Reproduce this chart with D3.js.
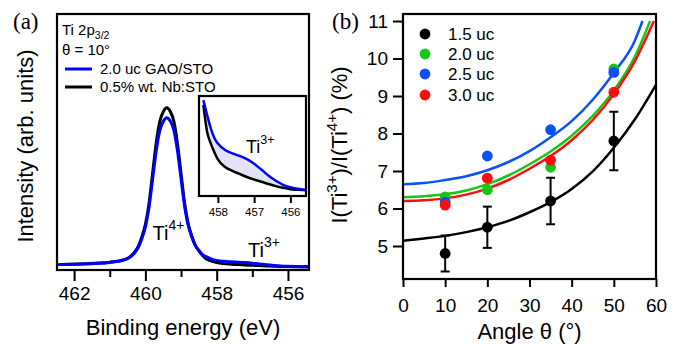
<!DOCTYPE html>
<html><head><meta charset="utf-8">
<script src="https://cdn.jsdelivr.net/npm/d3@7"></script>
<style>
body{margin:0;background:#fff}
svg{display:block}
text{font-family:"Liberation Sans",Arial,Helvetica,sans-serif;fill:#000}
</style>
</head><body>
<svg id="c" width="681" height="344"></svg>
<script>
// ---------- Panel (a): Ti 2p3/2 spectra ----------
const energy = [462.5, 462.2, 461.9, 461.6, 461.3, 461.0, 460.8, 460.6, 460.5, 460.4, 460.3, 460.2, 460.1, 460.0,
  459.9, 459.8, 459.7, 459.6, 459.5, 459.4, 459.3, 459.2, 459.1, 459.0,
  458.9, 458.8, 458.7, 458.6, 458.5, 458.4, 458.3, 458.2, 458.1, 458.0,
  457.8, 457.6, 457.4, 457.2, 457.0, 456.8, 456.6, 456.4, 456.2, 456.0, 455.8, 455.6, 455.4];
const gaoSto = [2.11, 2.18, 2.27, 2.43, 2.63, 2.96, 3.30, 3.89, 4.41, 5.32, 6.76, 8.78, 12.21, 16.80,
  24.30, 35.23, 46.17, 54.24, 58.02, 59.50, 58.15, 54.49, 46.54, 35.73,
  24.91, 17.52, 12.99, 9.62, 7.67, 6.00, 5.25, 4.55, 4.02, 3.72,
  3.38, 3.20, 3.07, 2.90, 2.66, 2.35, 2.02, 1.76, 1.55, 1.42, 1.34, 1.28, 1.22];
const nbSto = [2.13, 2.20, 2.30, 2.47, 2.69, 3.04, 3.40, 4.03, 4.59, 5.56, 7.10, 9.26, 12.93, 17.84,
  25.84, 37.51, 49.20, 57.81, 61.83, 63.40, 61.90, 57.93, 49.38, 37.75,
  26.13, 18.18, 13.29, 9.64, 7.51, 5.75, 4.37, 3.74, 3.28, 2.89,
  2.49, 2.28, 2.12, 1.96, 1.83, 1.71, 1.59, 1.48, 1.39, 1.32, 1.29, 1.27, 1.25];
const energyMajorTicks = [462, 460, 458, 456];
const energyMinorTicks = [461, 459, 457];
const insetTicks = [458, 457, 456];

// ---------- Panel (b): Ti3+/Ti4+ ratio vs angle ----------
const angles = [10, 20, 35, 50];
const uc15 = [4.8, 5.5, 6.2, 7.8];
const uc15err = [0.48, 0.55, 0.62, 0.78];
const uc20 = [6.31, 6.5, 7.1, 9.72];
const uc25 = [6.17, 7.4, 8.1, 9.63];
const uc30 = [6.09, 6.81, 7.29, 9.1];
const fitAngles15 = [0, 5, 10, 15, 20, 25, 30, 35, 40, 45, 50, 55, 60];
const fit15 = [5.14, 5.20, 5.27, 5.37, 5.50, 5.67, 5.90, 6.17, 6.52, 6.99, 7.62, 8.38, 9.30];
const fitAngles20 = [0, 5, 10, 15, 20, 25, 30, 35, 40, 45, 50, 55, 58.6];
const fit20 = [6.30, 6.33, 6.38, 6.48, 6.65, 6.88, 7.18, 7.52, 7.94, 8.47, 9.15, 10.05, 11.0];
const fitAngles25 = [0, 5, 10, 15, 20, 25, 30, 35, 40, 45, 50, 55, 56.8];
const fit25 = [6.65, 6.68, 6.76, 6.86, 7.02, 7.24, 7.53, 7.90, 8.33, 8.90, 9.62, 10.48, 11.0];
const fitAngles30 = [0, 5, 10, 15, 20, 25, 30, 35, 40, 45, 50, 55, 59.5];
const fit30 = [6.20, 6.22, 6.27, 6.37, 6.53, 6.76, 7.06, 7.40, 7.82, 8.36, 9.05, 9.93, 11.0];
const angleTicks = [0, 10, 20, 30, 40, 50, 60];
const ratioTicks = [5, 6, 7, 8, 9, 10, 11];
const seriesNames = ["1.5 uc", "2.0 uc", "2.5 uc", "3.0 uc"];
const seriesColors = ["#000000", "#17c617", "#0a50ff", "#ff0d0d"];

const svg = d3.select("#c");

// ===== Panel (a) =====
const A = {l: 57, r: 309, t: 14, b: 270};
const xA = d3.scaleLinear().domain([462.48, 455.41]).range([A.l, A.r]);
const yA = d3.scaleLinear().domain([0, 100]).range([A.b, A.t]);
const specBlue = energy.map((e, i) => ({e, v: gaoSto[i]}));
const specBlack = energy.map((e, i) => ({e, v: nbSto[i]}));

svg.append("clipPath").attr("id", "clipA").append("rect")
  .attr("x", A.l).attr("y", A.t).attr("width", A.r - A.l).attr("height", A.b - A.t);

const lineA = d3.line().x(d => xA(d.e)).y(d => yA(d.v)).curve(d3.curveMonotoneX);
const gA = svg.append("g").attr("clip-path", "url(#clipA)");
gA.append("path").datum(specBlack).attr("d", lineA).attr("fill", "none").attr("stroke", "#000").attr("stroke-width", 3);
gA.append("path").datum(specBlue).attr("d", lineA).attr("fill", "none").attr("stroke", "#0000ff").attr("stroke-width", 3);

// axis ticks
const axA = svg.append("g").attr("transform", `translate(0,${A.b})`)
  .call(d3.axisBottom(xA).tickValues(energyMajorTicks).tickSize(11).tickPadding(6).tickFormat(d3.format("d")));
axA.select(".domain").remove();
axA.selectAll("line").attr("stroke-width", 2);
axA.selectAll("text").attr("font-size", 19).style("font-family", '"Liberation Sans",Arial,sans-serif');
const axA2 = svg.append("g").attr("transform", `translate(0,${A.b})`)
  .call(d3.axisBottom(xA).tickValues(energyMinorTicks).tickSize(7).tickFormat(""));
axA2.select(".domain").remove();
axA2.selectAll("line").attr("stroke-width", 2);

svg.append("rect").attr("x", A.l).attr("y", A.t).attr("width", A.r - A.l).attr("height", A.b - A.t)
  .attr("fill", "none").attr("stroke", "#000").attr("stroke-width", 2.2);

svg.append("text").attr("x", (A.l + A.r) / 2).attr("y", 335).attr("text-anchor", "middle")
  .attr("font-size", 22).text("Binding energy (eV)");
svg.append("text").attr("transform", "translate(33,146) rotate(-90)").attr("text-anchor", "middle")
  .attr("font-size", 22).text("Intensity (arb. units)");
svg.append("text").attr("x", 13).attr("y", 29).attr("font-size", 23)
  .style("font-family", '"Liberation Serif","Times New Roman",serif').text("(a)");

// legend (a)
const t1 = svg.append("text").attr("x", 62).attr("y", 35).attr("font-size", 15);
t1.append("tspan").text("Ti 2p");
t1.append("tspan").attr("font-size", 10.5).attr("dy", 4).text("3/2");
svg.append("text").attr("x", 62).attr("y", 55).attr("font-size", 15).text("θ = 10°");
svg.append("line").attr("x1", 65).attr("x2", 92).attr("y1", 69).attr("y2", 69).attr("stroke", "#0000ff").attr("stroke-width", 3);
svg.append("text").attr("x", 100).attr("y", 74).attr("font-size", 15).text("2.0 uc GAO/STO");
svg.append("line").attr("x1", 65).attr("x2", 92).attr("y1", 87).attr("y2", 87).attr("stroke", "#000").attr("stroke-width", 3);
svg.append("text").attr("x", 100).attr("y", 92).attr("font-size", 15).text("0.5% wt. Nb:STO");

function supLabel(x, y, fs, base, sup) {
  const t = svg.append("text").attr("x", x).attr("y", y).attr("font-size", fs);
  t.append("tspan").text(base);
  t.append("tspan").attr("font-size", fs * 0.7).attr("dy", -fs * 0.5).text(sup);
  return t;
}
supLabel(152.5, 240, 20, "Ti", "4+");
supLabel(248, 257, 20, "Ti", "3+");

// inset
const I = {l: 199, r: 306, t: 96, b: 196};
const xI = d3.scaleLinear().domain([458.52, 455.57]).range([I.l, I.r]);
const yI = d3.scaleLinear().domain([0.96, 6.22]).range([I.b, I.t]);
svg.append("rect").attr("x", I.l).attr("y", I.t).attr("width", I.r - I.l).attr("height", I.b - I.t)
  .attr("fill", "#fff");
svg.append("clipPath").attr("id", "clipI").append("rect")
  .attr("x", I.l).attr("y", I.t).attr("width", I.r - I.l).attr("height", I.b - I.t);
const insetData = energy.map((e, i) => ({e, hi: gaoSto[i], lo: nbSto[i]})).filter(d => d.e <= 458.4);
const gI = svg.append("g").attr("clip-path", "url(#clipI)");
gI.append("path").datum(insetData)
  .attr("d", d3.area().x(d => xI(d.e)).y0(d => yI(d.lo)).y1(d => yI(d.hi)).curve(d3.curveMonotoneX))
  .attr("fill", "#e3e3f8");
gI.append("path").datum(insetData)
  .attr("d", d3.line().x(d => xI(d.e)).y(d => yI(d.lo)).curve(d3.curveMonotoneX))
  .attr("fill", "none").attr("stroke", "#000").attr("stroke-width", 2.5);
gI.append("path").datum(insetData)
  .attr("d", d3.line().x(d => xI(d.e)).y(d => yI(d.hi)).curve(d3.curveMonotoneX))
  .attr("fill", "none").attr("stroke", "#0000ff").attr("stroke-width", 2.5);
svg.append("rect").attr("x", I.l).attr("y", I.t).attr("width", I.r - I.l).attr("height", I.b - I.t)
  .attr("fill", "none").attr("stroke", "#000").attr("stroke-width", 2.2);
const axI = svg.append("g").attr("transform", `translate(0,${I.b})`)
  .call(d3.axisBottom(xI).tickValues(insetTicks).tickSize(7).tickPadding(5).tickFormat(d3.format("d")));
axI.select(".domain").remove();
axI.selectAll("line").attr("stroke-width", 2);
axI.selectAll("text").attr("font-size", 11.5).style("font-family", '"Liberation Sans",Arial,sans-serif');
supLabel(246, 153, 18, "Ti", "3+");

// ===== Panel (b) =====
const B = {l: 403, r: 656, t: 14, b: 279};
const xB = d3.scaleLinear().domain([0, 60]).range([B.l, B.r]);
const yB = d3.scaleLinear().domain([4.12, 11.187]).range([B.b, B.t]);

svg.append("clipPath").attr("id", "clipB").append("rect")
  .attr("x", B.l).attr("y", B.t).attr("width", B.r - B.l).attr("height", B.b - B.t);
const gB = svg.append("g").attr("clip-path", "url(#clipB)");
const lineB = d3.line().x(d => xB(d[0])).y(d => yB(d[1])).curve(d3.curveMonotoneX);
const fits = [
  [fitAngles15, fit15, 0], [fitAngles25, fit25, 2], [fitAngles20, fit20, 1], [fitAngles30, fit30, 3]
];
fits.forEach(([xs, ys, ci]) => {
  gB.append("path").datum(xs.map((a, i) => [a, ys[i]])).attr("d", lineB)
    .attr("fill", "none").attr("stroke", seriesColors[ci]).attr("stroke-width", 2.5);
});

// error bars for 1.5 uc
angles.forEach((a, i) => {
  const x = xB(a), y1 = yB(uc15[i] + uc15err[i]), y2 = yB(uc15[i] - uc15err[i]);
  gB.append("line").attr("x1", x).attr("x2", x).attr("y1", y1).attr("y2", y2).attr("stroke", "#000").attr("stroke-width", 2);
  [y1, y2].forEach(yy => gB.append("line").attr("x1", x - 4.5).attr("x2", x + 4.5).attr("y1", yy).attr("y2", yy)
    .attr("stroke", "#000").attr("stroke-width", 2));
});
const ptSeries = [uc15, uc20, uc25, uc30];
ptSeries.forEach((vals, si) => {
  gB.selectAll(null).data(vals).enter().append("circle")
    .attr("cx", (d, i) => xB(angles[i])).attr("cy", d => yB(d)).attr("r", 5.4)
    .attr("fill", seriesColors[si]);
});

svg.append("rect").attr("x", B.l).attr("y", B.t).attr("width", B.r - B.l).attr("height", B.b - B.t)
  .attr("fill", "none").attr("stroke", "#000").attr("stroke-width", 2.2);
const axBx = svg.append("g").attr("transform", `translate(0,${B.b})`)
  .call(d3.axisBottom(xB).tickValues(angleTicks).tickSize(8).tickPadding(12).tickFormat(d3.format("d")));
axBx.select(".domain").remove();
axBx.selectAll("line").attr("stroke-width", 2);
axBx.selectAll("text").attr("font-size", 19).style("font-family", '"Liberation Sans",Arial,sans-serif');
const axBy = svg.append("g").attr("transform", `translate(${B.l},0)`)
  .call(d3.axisLeft(yB).tickValues(ratioTicks).tickSize(10).tickPadding(5).tickFormat(d3.format("d")));
axBy.select(".domain").remove();
axBy.selectAll("line").attr("stroke-width", 2);
axBy.selectAll("text").attr("font-size", 19).style("font-family", '"Liberation Sans",Arial,sans-serif');

svg.append("text").attr("x", (B.l + B.r) / 2).attr("y", 338.5).attr("text-anchor", "middle")
  .attr("font-size", 22).text("Angle θ (°)");
const yl = svg.append("text").attr("transform", "translate(347,145) rotate(-90)").attr("text-anchor", "middle")
  .attr("font-size", 22);
yl.append("tspan").text("I(Ti");
yl.append("tspan").attr("font-size", 15).attr("dy", -10).text("3+");
yl.append("tspan").attr("dy", 10).text(")/I(Ti");
yl.append("tspan").attr("font-size", 15).attr("dy", -10).text("4+");
yl.append("tspan").attr("dy", 10).text(") (%)");
svg.append("text").attr("x", 332).attr("y", 29).attr("font-size", 23)
  .style("font-family", '"Liberation Serif","Times New Roman",serif').text("(b)");

// legend (b)
const legY = [34, 54, 74, 95];
seriesNames.forEach((n, i) => {
  svg.append("circle").attr("cx", 425).attr("cy", legY[i]).attr("r", 5.4).attr("fill", seriesColors[i]);
  svg.append("text").attr("x", 448).attr("y", legY[i] + 6.3).attr("font-size", 17).text(n);
});
</script>
</body></html>
